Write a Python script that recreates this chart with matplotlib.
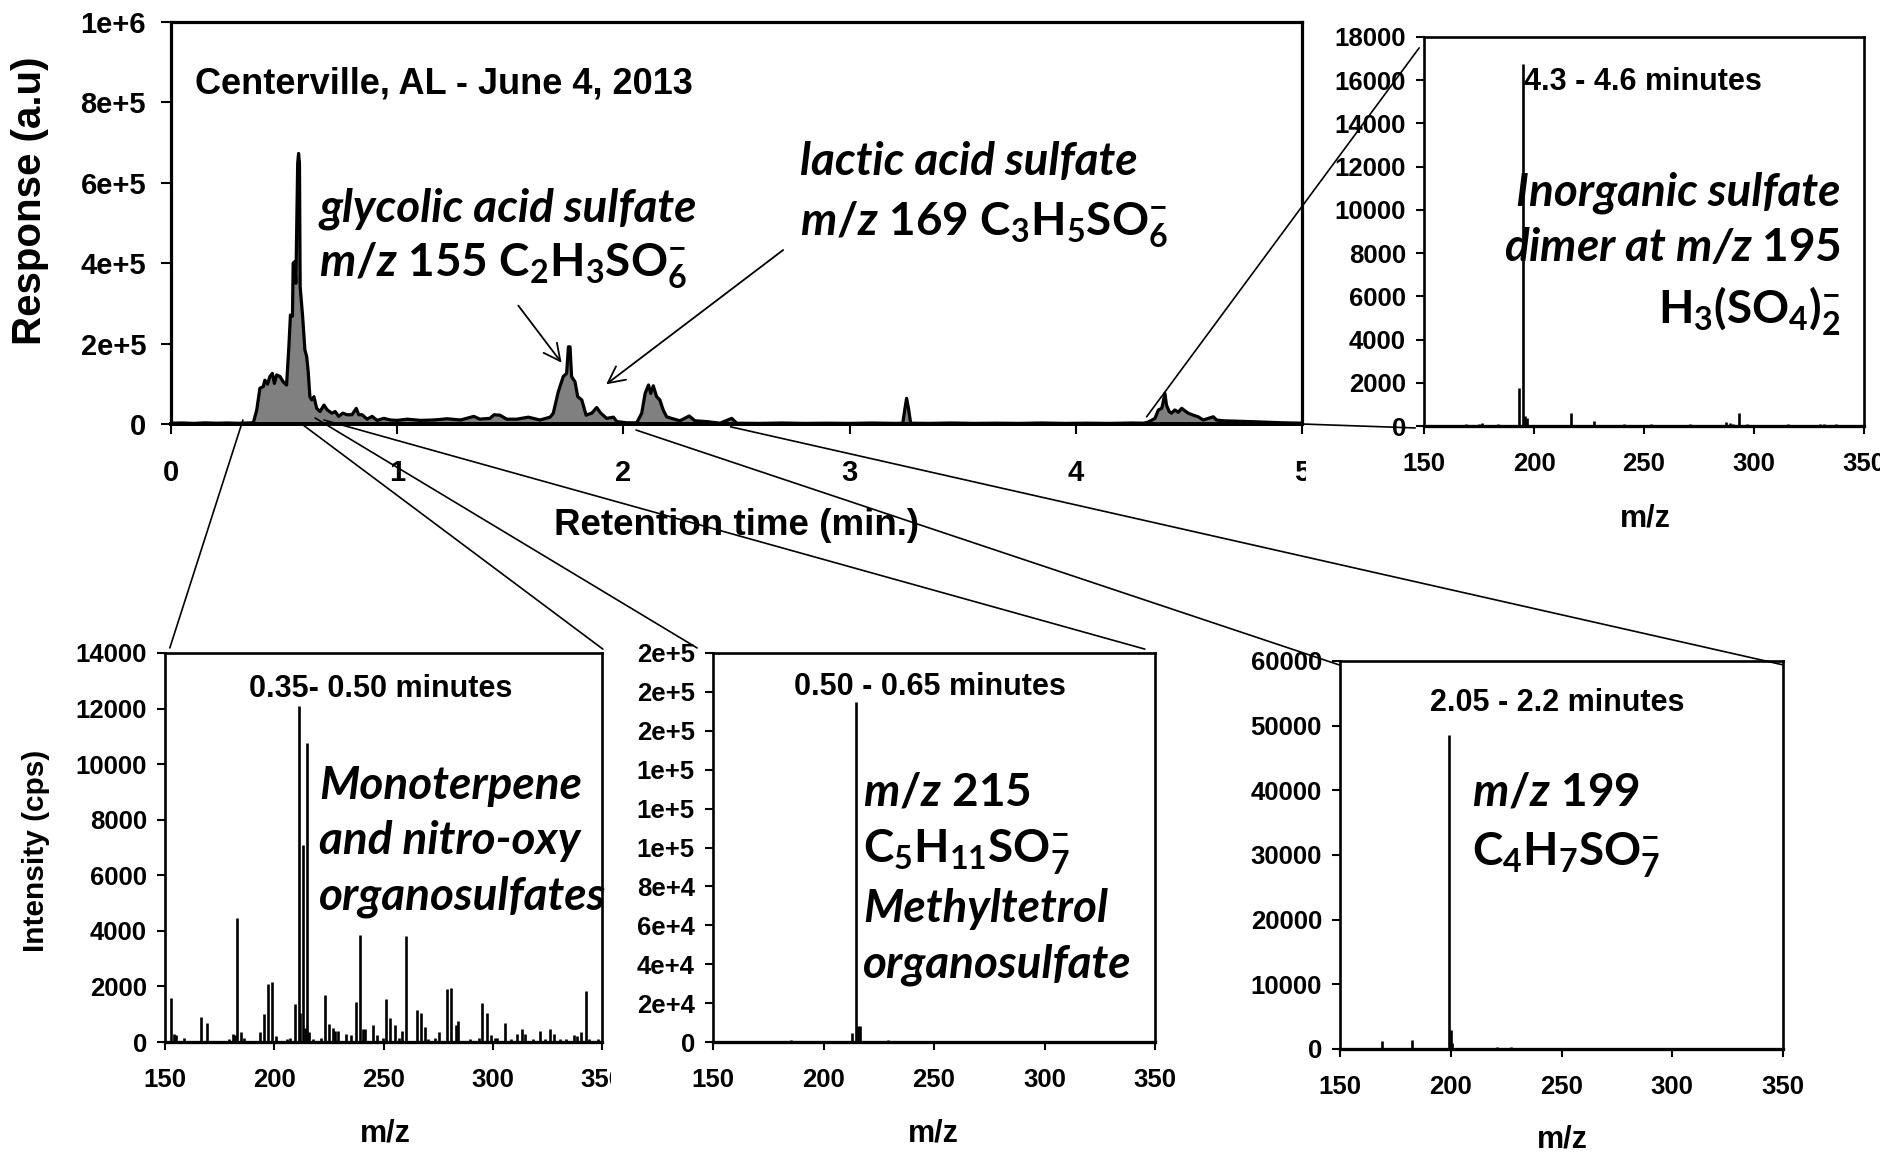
import matplotlib
matplotlib.use("Agg")
import matplotlib.pyplot as plt
from matplotlib.patches import ConnectionPatch
from matplotlib.transforms import Bbox, TransformedBbox

W, H = 1880, 1152

# ---------------- data ----------------
# Chromatogram (retention time in min, response a.u.)
rt = [0.00, 0.05, 0.10, 0.15, 0.20, 0.25, 0.30, 0.34, 0.364, 0.379, 0.393, 0.408, 0.415, 0.427,
      0.437, 0.448, 0.457, 0.467, 0.482, 0.496, 0.511, 0.521, 0.528, 0.537, 0.540, 0.547, 0.552,
      0.560, 0.564, 0.568, 0.571, 0.582, 0.592, 0.600, 0.607, 0.614, 0.622, 0.632, 0.644, 0.659,
      0.676, 0.691, 0.711, 0.726, 0.741, 0.760, 0.778, 0.800, 0.819, 0.830, 0.845, 0.867, 0.889,
      0.911, 0.941, 0.970, 1.000, 1.044, 1.103, 1.162, 1.221, 1.280, 1.339, 1.366, 1.384, 1.410,
      1.428, 1.454, 1.484, 1.528, 1.580, 1.631, 1.676, 1.690, 1.712, 1.734, 1.749, 1.757, 1.764,
      1.771, 1.786, 1.798, 1.816, 1.835, 1.860, 1.882, 1.900, 1.926, 1.956, 1.971, 2.015, 2.059,
      2.081, 2.096, 2.111, 2.121, 2.132, 2.147, 2.161, 2.176, 2.191, 2.213, 2.250, 2.291, 2.316,
      2.368, 2.427, 2.479, 2.501, 2.60, 2.70, 2.80, 2.90, 3.00, 3.10, 3.20, 3.235, 3.245, 3.252,
      3.260, 3.270, 3.35, 3.45, 3.55, 3.65, 3.75, 3.85, 3.95, 4.05, 4.15, 4.25, 4.30, 4.321, 4.350,
      4.365, 4.380, 4.394, 4.401, 4.413, 4.423, 4.438, 4.453, 4.468, 4.482, 4.497, 4.519, 4.541,
      4.563, 4.585, 4.608, 4.622, 4.652, 4.770, 4.916, 5.000]
response = [2000, 2500, 1500, 2800, 2000, 2500, 1800, 2500, 3000, 35000, 89000, 93000, 109000, 99000,
            118000, 126000, 101000, 122000, 118000, 105000, 97000, 192000, 271000, 268000, 400000, 404000, 350000,
            648000, 673000, 648000, 342000, 267000, 184000, 167000, 127000, 68000, 60000, 68000, 39000, 31000,
            47000, 35000, 27000, 31000, 19000, 27000, 23000, 23000, 39000, 23000, 23000, 12000, 19000,
            9000, 14000, 10000, 9000, 12000, 9000, 10000, 13000, 10000, 19000, 12000, 13000, 14000,
            23000, 22000, 12000, 12000, 17000, 10000, 17000, 27000, 80000, 118000, 126000, 192000, 192000,
            118000, 105000, 68000, 60000, 22000, 27000, 41000, 27000, 14000, 17000, 6000, 3000, 3000,
            27000, 76000, 97000, 76000, 95000, 68000, 60000, 35000, 18000, 14000, 8000, 20000, 8000,
            6000, 2000, 14000, 2000, 1500, 2500, 1500, 2000, 1500, 2500, 1500, 2000, 40000, 64000,
            40000, 2000, 1500, 2500, 1500, 2000, 1500, 2500, 1500, 2000, 1500, 2500, 2000, 5000, 14000,
            35000, 39000, 76000, 47000, 31000, 27000, 35000, 29000, 39000, 33000, 27000, 22000, 18000,
            10000, 14000, 18000, 10000, 8000, 6000, 3000, 2000]

# Mass spectrum 0.35-0.50 min
mz_a = [152.8, 154.3, 155.0, 158.9, 166.7, 169.1, 179.3, 181.1, 182.0, 183.1, 184.8, 186.1, 193.5,
        195.4, 197.2, 199.1, 200.9, 205.9, 207.4, 209.3, 211.1, 212.0, 213.0, 213.9, 215.2, 216.1,
        217.6, 221.3, 223.1, 225.0, 226.9, 227.8, 229.3, 232.8, 235.2, 237.4, 239.1, 240.7, 241.7,
        245.0, 247.2, 249.6, 251.1, 253.1, 255.2, 257.0, 258.3, 260.2, 265.4, 267.2, 268.9, 270.4,
        273.7, 275.4, 278.9, 281.1, 283.0, 283.9, 289.8, 293.5, 295.2, 297.2, 299.1, 300.9, 302.0,
        305.4, 308.3, 311.1, 313.3, 314.8, 318.5, 321.5, 324.1, 326.3, 328.1, 330.6, 333.3, 337.4,
        338.5, 340.6, 342.6, 343.9, 348.1]
int_a = [1600, 300, 250, 150, 900, 700, 100, 300, 250, 4450, 350, 150, 350,
         1000, 2100, 2150, 200, 100, 150, 1350, 12100, 1050, 7100, 500, 10750, 350,
         100, 150, 1700, 650, 500, 400, 400, 300, 250, 1450, 3850, 450, 450,
         600, 250, 150, 1550, 850, 600, 150, 400, 3800, 1150, 1050, 550, 100,
         150, 350, 1900, 1950, 600, 750, 100, 150, 1400, 1050, 250, 150, 150,
         700, 100, 300, 450, 300, 100, 400, 100, 450, 300, 100, 100, 250,
         200, 350, 1850, 100, 100]

# Mass spectrum 0.50-0.65 min
mz_b = [185.3, 199.4, 212.8, 214.9, 215.7, 216.3, 229.0]
int_b = [900, 500, 4700, 174700, 8400, 8000, 900]

# Mass spectrum 2.05-2.2 min
mz_c = [169.1, 182.7, 199.0, 199.9, 200.6, 220.7, 227.0]
int_c = [1200, 1350, 48500, 2950, 900, 300, 300]

# Mass spectrum 4.3-4.6 min
mz_d = [169.3, 175.0, 176.5, 183.6, 193.2, 194.9, 195.7, 197.0, 216.9, 227.3, 240.8, 253.4,
        271.0, 287.3, 289.0, 290.5, 293.4, 297.0, 315.5, 330.0, 332.0, 337.4]
int_d = [100, 100, 150, 80, 1740, 16750, 450, 380, 580, 250, 100, 80,
         100, 200, 150, 100, 580, 80, 100, 100, 100, 100]

main_yticks = [0, 200000, 400000, 600000, 800000, 1000000]
main_yticklabels = ["0", "2e+5", "4e+5", "6e+5", "8e+5", "1e+6"]
main_xticks = [0, 1, 2, 3, 4, 5]
mz_ticks = [150, 200, 250, 300, 350]
a_yticks = [0, 2000, 4000, 6000, 8000, 10000, 12000, 14000]
b_yticks = [0, 20000, 40000, 60000, 80000, 100000, 120000, 140000, 160000, 180000, 200000]
b_yticklabels = ["0", "2e+4", "4e+4", "6e+4", "8e+4", "1e+5", "1e+5", "1e+5", "2e+5", "2e+5", "2e+5"]
c_yticks = [0, 10000, 20000, 30000, 40000, 50000, 60000]
d_yticks = [0, 2000, 4000, 6000, 8000, 10000, 12000, 14000, 16000, 18000]

# ---------------- style ----------------
plt.rcParams["font.family"] = ["Liberation Sans", "DejaVu Sans"]
plt.rcParams["mathtext.fontset"] = "custom"
plt.rcParams["mathtext.rm"] = "Lato:weight=bold"
plt.rcParams["mathtext.it"] = "Lato:style=italic:weight=bold"
plt.rcParams["mathtext.bf"] = "Lato:weight=bold"

fig = plt.figure(figsize=(W / 100, H / 100), dpi=100)


def rect(l, t, r, b):
    return [l / W, 1 - b / H, (r - l) / W, (b - t) / H]


def fx(px):
    return px / W


def fy(py):
    return 1 - py / H


def style_axes(a, spine_lw, tick_len, xpad, ypad):
    for s in a.spines.values():
        s.set_linewidth(spine_lw)
        s.set_color("black")
    a.spines["bottom"].set_linewidth(spine_lw * 1.25)
    a.set_facecolor("none")
    a.tick_params(axis="both", which="both", direction="out", length=tick_len, width=1.5,
                  top=False, right=False, colors="black")
    a.tick_params(axis="x", pad=xpad)
    a.tick_params(axis="y", pad=ypad)


# ---------------- main chromatogram ----------------
ax = fig.add_axes(rect(171, 22, 1302, 424))
ax.fill_between(rt, response, 0, color="#808080", lw=0)
ax.plot(rt, response, color="black", lw=2.3, solid_joinstyle="round")
ax.set_xlim(0, 5)
ax.set_ylim(0, 1e6)
ax.set_xticks(main_xticks, labels=[str(v) for v in main_xticks], fontsize=21, fontweight="bold")
ax.set_yticks(main_yticks, labels=main_yticklabels, fontsize=21, fontweight="bold")
style_axes(ax, 2.3, 7, 18, 11)

ax.annotate("", xy=(1.734, 1.47e5), xytext=(1.528, 3.0e5),
            arrowprops=dict(arrowstyle="->", color="black", lw=1.3, mutation_scale=30))
ax.annotate("", xy=(1.914, 0.945e5), xytext=(2.716, 4.37e5),
            arrowprops=dict(arrowstyle="->", color="black", lw=1.3, mutation_scale=30))

# ---------------- spectra ----------------
axA = fig.add_axes(rect(165, 653, 602, 1042))
axB = fig.add_axes(rect(713, 653, 1155, 1042))
axC = fig.add_axes(rect(1340, 661, 1783, 1049))
axD = fig.add_axes(rect(1424, 37, 1864, 426))

for a, mz, inten, yt, ytl, ymax in [
    (axA, mz_a, int_a, a_yticks, [str(v) for v in a_yticks], 14000),
    (axB, mz_b, int_b, b_yticks, b_yticklabels, 200000),
    (axC, mz_c, int_c, c_yticks, [str(v) for v in c_yticks], 60000),
    (axD, mz_d, int_d, d_yticks, [str(v) for v in d_yticks], 18000),
]:
    a.vlines(mz, 0, inten, color="black", lw=1.9)
    a.set_xlim(150, 350)
    a.set_ylim(0, ymax)
    a.set_xticks(mz_ticks, labels=[str(v) for v in mz_ticks], fontsize=18.5, fontweight="bold")
    a.set_yticks(yt, labels=ytl, fontsize=18.5, fontweight="bold")
    style_axes(a, 1.9, 6, 13, 7)

# ---------------- Arial-like labels ----------------
bold = dict(fontweight="bold", color="black")
fig.text(fx(30), fy(201), "Response (a.u)", rotation=90, fontsize=29, ha="center", va="center", **bold)
fig.text(fx(737), fy(525), "Retention time (min.)", fontsize=26.5, ha="center", va="center", **bold)
fig.text(fx(195), fy(84), "Centerville, AL - June 4, 2013", fontsize=26, ha="left", va="center", **bold)
fig.text(fx(36), fy(851), "Intensity (cps)", rotation=90, fontsize=21.5, ha="center", va="center", **bold)
for xx, yy in [(385, 1133), (933, 1133), (1562, 1139), (1645, 519)]:
    fig.text(fx(xx), fy(yy), "m/z", fontsize=22, ha="center", va="center", **bold)
for xx, yy, s in [(381, 689, "0.35- 0.50 minutes"), (930, 687, "0.50 - 0.65 minutes"),
                  (1557, 703, "2.05 - 2.2 minutes"), (1643, 82, "4.3 - 4.6 minutes")]:
    fig.text(fx(xx), fy(yy), s, fontsize=22, ha="center", va="center", **bold)

# ---------------- Calibri-like annotations ----------------
cal = dict(family=["Lato", "DejaVu Sans"], fontweight="bold", color="black", va="baseline")
SZ = 33
fig.text(fx(319), fy(222), "glycolic acid sulfate", fontsize=SZ, style="italic", **cal)
fig.text(fx(319), fy(277), r"$\mathit{m/z}$ 155 C$_{2}$H$_{3}$SO$_{6}^{-}$", fontsize=SZ, **cal)
fig.text(fx(800), fy(175), "lactic acid sulfate", fontsize=SZ, style="italic", **cal)
fig.text(fx(800), fy(236), r"$\mathit{m/z}$ 169 C$_{3}$H$_{5}$SO$_{6}^{-}$", fontsize=SZ, **cal)

fig.text(fx(319), fy(799), "Monoterpene", fontsize=SZ, style="italic", **cal)
fig.text(fx(319), fy(854), "and nitro-oxy", fontsize=SZ, style="italic", **cal)
fig.text(fx(319), fy(910), "organosulfates", fontsize=SZ, style="italic", **cal)

fig.text(fx(863), fy(806), r"$\mathit{m/z}$ 215", fontsize=SZ, **cal)
fig.text(fx(863), fy(863), r"C$_{5}$H$_{11}$SO$_{7}^{-}$", fontsize=SZ, **cal)
fig.text(fx(863), fy(922), "Methyltetrol", fontsize=SZ, style="italic", **cal)
fig.text(fx(863), fy(977), "organosulfate", fontsize=SZ, style="italic", **cal)

fig.text(fx(1472), fy(806), r"$\mathit{m/z}$ 199", fontsize=SZ, **cal)
fig.text(fx(1472), fy(866), r"C$_{4}$H$_{7}$SO$_{7}^{-}$", fontsize=SZ, **cal)

fig.text(fx(1841), fy(206), "Inorganic sulfate", fontsize=SZ, style="italic", ha="right", **cal)
fig.text(fx(1841), fy(261), r"dimer at m/z $\mathrm{195}$", fontsize=SZ, style="italic", ha="right", **cal)
fig.text(fx(1841), fy(324), r"H$_{3}$(SO$_{4}$)$_{2}^{-}$", fontsize=SZ, ha="right", **cal)

# ---------------- zoom connector lines ----------------
connectors = [
    ((0.318, 1.0e4), axA, (0.011, 1.013)),
    ((0.578, 0.0), axA, (1.002, 1.010)),
    ((0.637, 1.5e4), axB, (-0.036, 1.013)),
    ((0.676, 1.0e4), axB, (0.977, 1.010)),
    ((2.056, -1.5e4), axC, (-0.002, 0.990)),
    ((2.474, -7.0e3), axC, (1.000, 0.990)),
    ((4.313, 1.8e4), axD, (-0.011, 0.972)),
    ((5.000, 0.0), axD, (-0.020, -0.005)),
]
for xyA, axT, xyB in connectors:
    con = ConnectionPatch(xyA=xyA, coordsA="data", axesA=ax, xyB=xyB, coordsB="axes fraction",
                          axesB=axT, color="black", lw=1.2, clip_on=False)
    con.set_annotation_clip(False)
    con.set_zorder(5)
    fig.add_artist(con)

# clip the partly hidden tick labels like in the original
fig.canvas.draw()
clipM = TransformedBbox(Bbox.from_extents(0, 0, 1306 / W, 1), fig.transFigure)
ax.get_xticklabels()[-1].set_clip_box(clipM)
ax.get_xticklabels()[-1].set_clip_on(True)
clipA = TransformedBbox(Bbox.from_extents(0, 0, 611 / W, 1), fig.transFigure)
axA.get_xticklabels()[-1].set_clip_box(clipA)
axA.get_xticklabels()[-1].set_clip_on(True)

fig.savefig("out.png", dpi=100)
